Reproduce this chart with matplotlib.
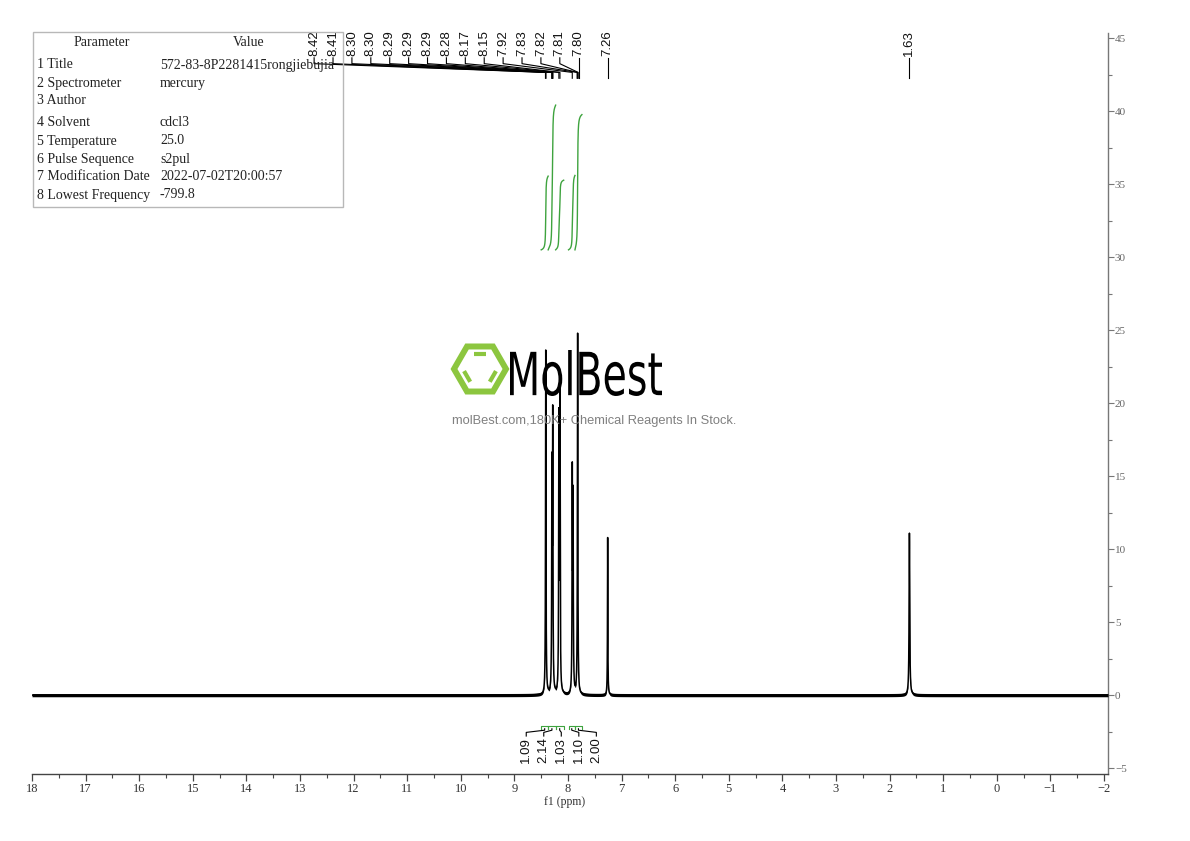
import numpy as np
import matplotlib
matplotlib.use("Agg")
import matplotlib.pyplot as plt
from matplotlib.ticker import MultipleLocator
from matplotlib.textpath import TextPath
from matplotlib.patches import PathPatch, Polygon, Rectangle
from matplotlib.lines import Line2D
from matplotlib.font_manager import FontProperties
from matplotlib.transforms import Affine2D, IdentityTransform

# ---------------- data ----------------
peak_ppm = [8.415, 8.300, 8.285, 8.170, 8.150, 7.920, 7.905, 7.820, 7.260, 1.630]
peak_height = [23.6, 14.7, 18.3, 18.4, 20.7, 14.6, 12.8, 24.7, 10.8, 11.1]
peak_hwhm = [0.005, 0.005, 0.005, 0.005, 0.005, 0.005, 0.005, 0.005, 0.004, 0.007]

cluster_labels = ["8.42", "8.41", "8.30", "8.30", "8.29", "8.29", "8.29", "8.28",
                  "8.17", "8.15", "7.92", "7.83", "7.82", "7.81", "7.80"]
cluster_ppm = [8.42, 8.41, 8.30, 8.30, 8.29, 8.29, 8.29, 8.28,
               8.17, 8.15, 7.92, 7.83, 7.82, 7.81, 7.80]
single_labels = ["7.26", "1.63"]
single_ppm = [7.26, 1.63]

integral_start = [8.50, 8.37, 8.23, 7.99, 7.87]
integral_end = [8.37, 8.23, 8.08, 7.87, 7.74]
integral_values = [1.09, 2.14, 1.03, 1.10, 2.00]
integral_labels = ["1.09", "2.14", "1.03", "1.10", "2.00"]

x_ticks = list(range(18, -3, -1))
y_ticks = list(range(-5, 50, 5))

param_names = ["1 Title", "2 Spectrometer", "3 Author", "4 Solvent", "5 Temperature",
               "6 Pulse Sequence", "7 Modification Date", "8 Lowest Frequency"]
param_values = ["572-83-8P2281415rongjiebujia", "mercury", "", "cdcl3", "25.0",
                "s2pul", "2022-07-02T20:00:57", "-799.8"]

# ---------------- figure ----------------
W, H = 1190, 841
fig = plt.figure(figsize=(W / 100, H / 100), dpi=100)
ax = fig.add_axes([32 / W, 1 - 774 / H, (1108 - 32) / W, (774 - 33) / H])
ax.set_xlim(18, -2.075)
ax.set_ylim(-5.4, 45.35)

serif = "Liberation Serif"
sans = "Liberation Sans"
green = "#3ea33e"

# spectrum
x = np.linspace(18, -2.075, 40001)
y = np.zeros_like(x)
for p, h, w in zip(peak_ppm, peak_height, peak_hwhm):
    y += h / (1 + ((x - p) / w) ** 2)
ax.fill_between(x, y - 0.11, y + 0.11, color="black", lw=0, zorder=3)
ax.plot(x, y, color="black", lw=1.1, zorder=3)

# integral curves
int_base = 30.5
int_scale = 4.63
for a, b, v in zip(integral_start, integral_end, integral_values):
    m = (x <= a) & (x >= b)
    cum = np.cumsum(y[m])
    cum = (cum - cum[0]) / (cum[-1] - cum[0])
    ax.plot(x[m], int_base + v * int_scale * cum, color=green, lw=1.0, zorder=4)

# peak labels (top)
n = len(cluster_labels)
spacing = 0.3526
for i, (s, p) in enumerate(zip(cluster_labels, cluster_ppm)):
    lx = cluster_ppm[-1] + (n - 1 - i) * spacing
    ax.plot([lx, lx, p, p], [43.65, 43.25, 42.65, 42.25], color="black", lw=0.8,
            clip_on=False, zorder=5)
    ax.text(lx, 43.75, s, rotation=90, ha="center", va="bottom", fontsize=9.5,
            family=sans, color="#111111", zorder=6)
for s, p in zip(single_labels, single_ppm):
    ax.plot([p, p], [43.65, 42.25], color="black", lw=0.8, clip_on=False, zorder=5)
    ax.text(p, 43.75, s, rotation=90, ha="center", va="bottom", fontsize=9.5,
            family=sans, color="#111111", zorder=6)

# integral labels (bottom)
centers = [(a + b) / 2 for a, b in zip(integral_start, integral_end)]
k = len(integral_labels)
ispacing = 0.327
cmean = np.mean(centers)
for i, (s, a, b, c) in enumerate(zip(integral_labels, integral_start, integral_end, centers)):
    lx = cmean + ((k - 1) / 2 - i) * ispacing
    ax.plot([a, a, b, b], [-2.3, -2.1, -2.1, -2.3], color=green, lw=0.8, zorder=5)
    ax.plot([c, c, lx, lx], [-2.3, -2.4, -2.55, -2.8], color="black", lw=0.8, zorder=5)
    ax.text(lx, -2.88, s, rotation=90, ha="center", va="top", fontsize=9.5,
            family=sans, color="#111111")

# axes styling
for sp in ["left", "top"]:
    ax.spines[sp].set_visible(False)
ax.spines["bottom"].set_color("#444444")
ax.spines["right"].set_color("#777777")
ax.spines["bottom"].set_linewidth(1.0)
ax.spines["right"].set_linewidth(1.0)
ax.yaxis.tick_right()
ax.set_xticks(x_ticks)
ax.set_xticklabels([str(t).replace("-", "\u2212") for t in x_ticks])
ax.xaxis.set_minor_locator(MultipleLocator(0.5))
ax.set_yticks(y_ticks)
ax.set_yticklabels([str(t).replace("-", "\u2212") for t in y_ticks])
ax.yaxis.set_minor_locator(MultipleLocator(2.5))
ax.tick_params(axis="x", which="major", direction="out", length=5, width=0.9,
               color="#444444", labelsize=9, labelcolor="#333333", pad=1.5)
ax.tick_params(axis="x", which="minor", direction="out", length=3, width=0.8, color="#444444")
ax.tick_params(axis="y", which="major", direction="out", length=4, width=0.8,
               color="#777777", labelsize=8, labelcolor="#666666", pad=1)
ax.tick_params(axis="y", which="minor", direction="out", length=3, width=0.8, color="#777777")
for lab in ax.get_xticklabels() + ax.get_yticklabels():
    lab.set_family(serif)
ax.text(8.06, -7.35, "f1 (ppm)", ha="center", va="center", fontsize=8.5,
        family=serif, color="#333333", clip_on=False)


def fx(px):
    return px / W


def fy(py):
    return 1 - py / H


# parameter table
fig.add_artist(Rectangle((fx(33), fy(207)), fx(343) - fx(33), fy(32) - fy(207),
                         transform=fig.transFigure, fill=False, ec="#b8b8b8", lw=1.0))
fig.text(fx(102), fy(43), "Parameter", ha="center", va="center", fontsize=10,
         family=serif, color="#222222")
fig.text(fx(249), fy(43), "Value", ha="center", va="center", fontsize=10,
         family=serif, color="#222222")
row_y = [65, 83, 101, 123, 141, 159, 177, 195]
for ry, nm, vl in zip(row_y, param_names, param_values):
    fig.text(fx(37), fy(ry), nm, ha="left", va="center", fontsize=10,
             family=serif, color="#222222")
    fig.text(fx(160), fy(ry), vl, ha="left", va="center", fontsize=10,
             family=serif, color="#222222")

# watermark
logo_green = "#8cc63f"
cx, cy, R = 480, H - 369, 26
verts = [(cx + R * np.cos(np.radians(a)), cy + R * np.sin(np.radians(a))) for a in range(0, 360, 60)]
fig.add_artist(Polygon(verts, closed=True, fill=False, ec=logo_green, lw=4.3,
                       transform=IdentityTransform(), zorder=1))
r_in = 0.66 * R
for a0 in [60, 180, 300]:
    p1 = np.array([cx + r_in * np.cos(np.radians(a0)), cy + r_in * np.sin(np.radians(a0))])
    p2 = np.array([cx + r_in * np.cos(np.radians(a0 + 60)), cy + r_in * np.sin(np.radians(a0 + 60))])
    mid = (p1 + p2) / 2
    q1 = mid + (p1 - mid) * 0.72
    q2 = mid + (p2 - mid) * 0.72
    fig.add_artist(Line2D([q1[0], q2[0]], [q1[1], q2[1]], color=logo_green, lw=3.0,
                          solid_capstyle="butt", transform=IdentityTransform(), zorder=1))

tp = TextPath((0, 0), "MolBest", size=100, prop=FontProperties(family="DejaVu Sans"))
bb = tp.get_extents()
tr = Affine2D().translate(-bb.x0, -bb.y0).scale(152 / bb.width, 46 / bb.height).translate(510, H - 396)
fig.add_artist(PathPatch(tp, transform=tr, fc="black", ec="none", zorder=1))
fig.text(fx(594), fy(421), "molBest.com,180K+ Chemical Reagents In Stock.", ha="center",
         va="center", fontsize=9.3, family=sans, color="#808080", zorder=1)

fig.savefig("out.png", dpi=100)
